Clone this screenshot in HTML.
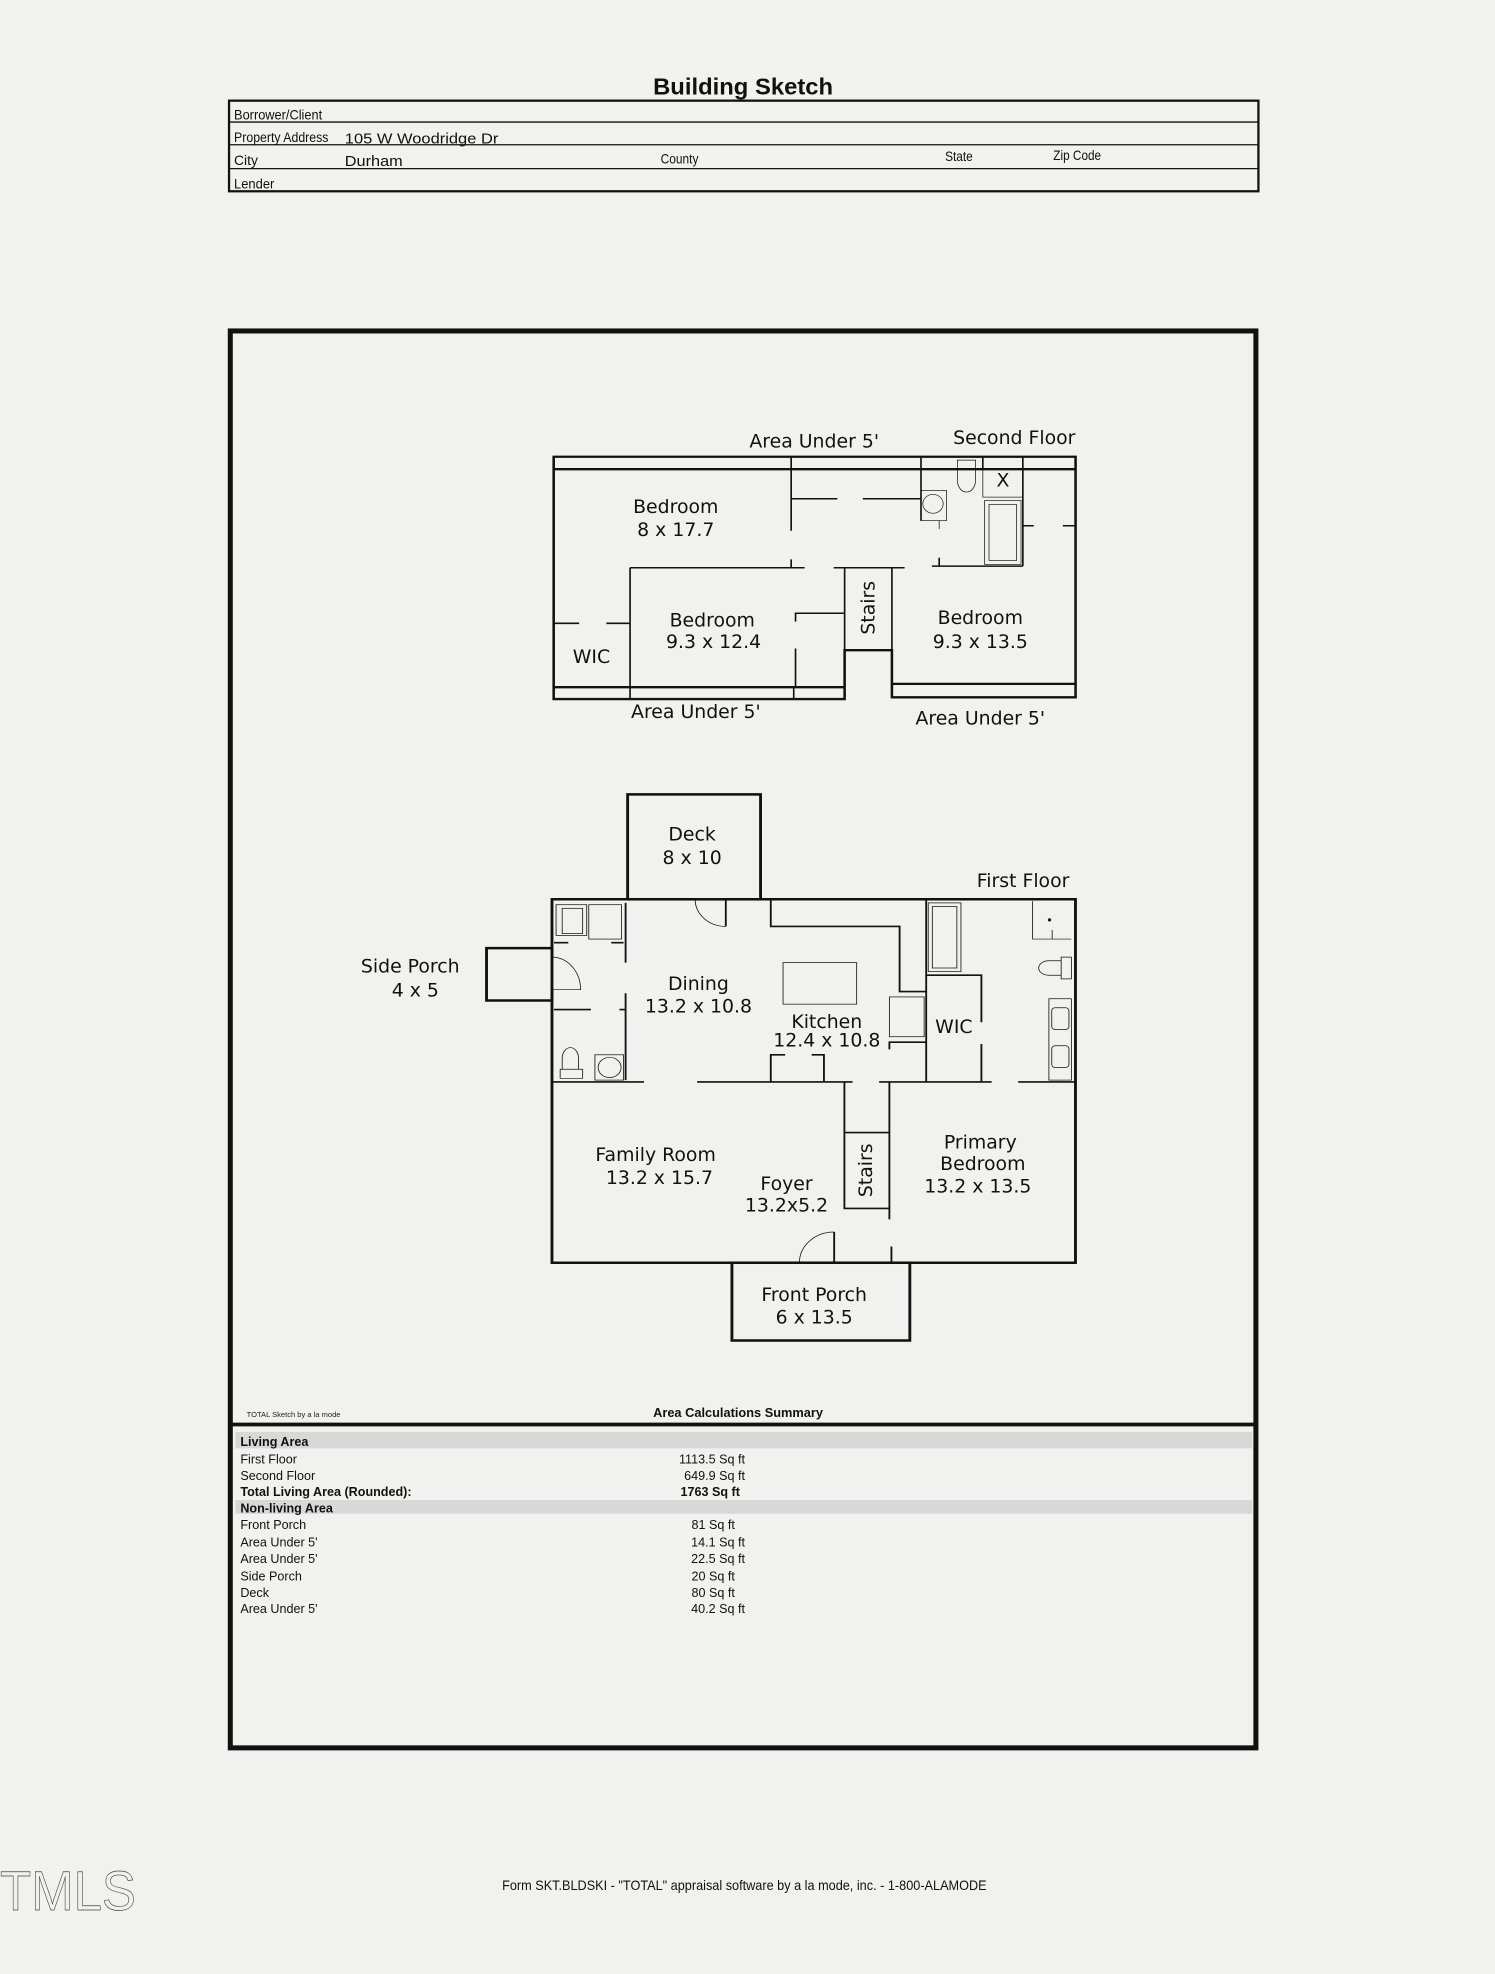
<!DOCTYPE html>
<html><head><meta charset="utf-8"><style>
html,body{margin:0;padding:0;background:#f1f1f0;}
svg{display:block;}
.n{font-family:"Liberation Sans Narrow","Liberation Sans",sans-serif;}
.v{font-family:"DejaVu Sans","Liberation Sans",sans-serif;font-size:15px;fill:#111;text-anchor:middle;dominant-baseline:central;}
.w{fill:none;stroke:#111;vector-effect:non-scaling-stroke;}
</style></head><body>
<svg width="1495" height="1974" viewBox="0 0 1188 1568.7" preserveAspectRatio="none" xmlns="http://www.w3.org/2000/svg">
<rect x="0" y="0" width="1188" height="1569" fill="#f1f1f0"/>
<!-- header -->
<text x="519" y="75" class="n" font-size="18" font-weight="bold" fill="#111" textLength="143" lengthAdjust="spacingAndGlyphs">Building Sketch</text>
<g stroke="#111" fill="none">
<rect x="182" y="80" width="818" height="72" stroke-width="1.8"/>
<line x1="182" y1="97" x2="1000" y2="97" stroke-width="1"/>
<line x1="182" y1="115" x2="1000" y2="115" stroke-width="1"/>
<line x1="182" y1="134" x2="1000" y2="134" stroke-width="1"/>
</g>
<g class="n" font-size="11" fill="#111">
<text x="186" y="95" textLength="70" lengthAdjust="spacingAndGlyphs">Borrower/Client</text>
<text x="186" y="113" textLength="75" lengthAdjust="spacingAndGlyphs">Property Address</text>
<text x="274" y="114" font-size="12" textLength="122" lengthAdjust="spacingAndGlyphs">105 W Woodridge Dr</text>
<text x="186" y="131">City</text>
<text x="274" y="132" font-size="12" textLength="46" lengthAdjust="spacingAndGlyphs">Durham</text>
<text x="525" y="130" textLength="30" lengthAdjust="spacingAndGlyphs">County</text>
<text x="751" y="128" textLength="22" lengthAdjust="spacingAndGlyphs">State</text>
<text x="837" y="127" textLength="38" lengthAdjust="spacingAndGlyphs">Zip Code</text>
<text x="186" y="150" textLength="32" lengthAdjust="spacingAndGlyphs">Lender</text>
</g>
<!-- main frame -->
<rect x="183" y="263" width="815" height="1126" fill="none" stroke="#111" stroke-width="4"/>
<line x1="183" y1="1132" x2="998" y2="1132" stroke="#111" stroke-width="3"/>
<text x="196" y="1126" class="n" font-size="6" fill="#222">TOTAL Sketch by a la mode</text>
<text x="519" y="1126" class="n" font-size="10" font-weight="bold" fill="#111" textLength="135" lengthAdjust="spacingAndGlyphs">Area Calculations Summary</text>
<rect x="187" y="1138" width="808" height="13" fill="#d8d8d8"/>
<rect x="187" y="1192" width="808" height="11" fill="#d8d8d8"/>
<g class="n" font-size="10" fill="#111">
<text x="191" y="1149" font-weight="bold">Living Area</text>
<text x="191" y="1163">First Floor</text>
<text x="191" y="1176">Second Floor</text>
<text x="191" y="1189" font-weight="bold">Total Living Area (Rounded):</text>
<text x="191" y="1202" font-weight="bold">Non-living Area</text>
<text x="191" y="1215">Front Porch</text>
<text x="191" y="1229">Area Under 5'</text>
<text x="191" y="1242">Area Under 5'</text>
<text x="191" y="1256">Side Porch</text>
<text x="191" y="1269">Deck</text>
<text x="191" y="1282">Area Under 5'</text>
<g text-anchor="end">
<text x="592" y="1163">1113.5 Sq ft</text>
<text x="592" y="1176">649.9 Sq ft</text>
<text x="588" y="1189" font-weight="bold">1763 Sq ft</text>
<text x="584" y="1215">81 Sq ft</text>
<text x="592" y="1229">14.1 Sq ft</text>
<text x="592" y="1242">22.5 Sq ft</text>
<text x="584" y="1256">20 Sq ft</text>
<text x="584" y="1269">80 Sq ft</text>
<text x="592" y="1282">40.2 Sq ft</text>
</g>
</g>
<!-- footer -->
<text x="399" y="1502" class="n" font-size="11" fill="#111" textLength="385" lengthAdjust="spacingAndGlyphs">Form SKT.BLDSKI - "TOTAL" appraisal software by a la mode, inc. - 1-800-ALAMODE</text>
<text x="0" y="1518" font-family="'Liberation Sans Narrow','Liberation Sans',sans-serif" font-size="44" fill="none" stroke="#444" stroke-width="0.5" textLength="108" lengthAdjust="spacingAndGlyphs">TMLS</text>

<!-- second floor -->
<g transform="translate(421.2,338.9) scale(0.289,0.2674)">
<g class="w" stroke-width="7">
<path d="M65,90 H1500 V805 H995 V665 H865 V810 H65 Z"/>
<line x1="65" y1="127" x2="1500" y2="127"/>
<line x1="65" y1="775" x2="865" y2="775"/>
<line x1="995" y1="765" x2="1500" y2="765"/>
</g>
<g class="w" stroke-width="4.5">
<path d="M718,90 V127 M1075,90 V127 M1245,90 V127 M1355,90 V127"/>
<path d="M275,775 V810 M725,775 V810"/>
<path d="M718,127 V310 M718,395 V420"/>
<path d="M718,215 H845 M915,215 H1075"/>
<path d="M1075,127 V280"/>
<path d="M1355,127 V415 M1355,295 H1385 M1465,295 H1500"/>
<path d="M1105,415 H1355 M1125,390 V415"/>
<path d="M275,420 H755 M835,420 H1030"/>
<path d="M275,420 V775"/>
<path d="M65,585 H135 M210,585 H275"/>
<path d="M730,580 V555 H865 M730,660 V775"/>
<path d="M865,420 V665 H995 V420"/>
</g>
<g class="w" stroke-width="2">
<rect x="1075" y="190" width="70" height="90"/>
<circle cx="1108" cy="230" r="28"/>
<path d="M1125,280 V305"/>
<path d="M1175,160 a25,35 0 0 0 50,0 V100 h-50 Z"/>
<rect x="1245" y="127" width="110" height="83"/>
<rect x="1250" y="220" width="100" height="190"/>
<rect x="1262" y="232" width="76" height="166"/>
</g>
</g>
<text x="797" y="382" class="v">X</text>
<text x="647" y="351" class="v">Area Under 5'</text>
<text x="806" y="348" class="v">Second Floor</text>
<text x="537" y="403" class="v">Bedroom</text>
<text x="537" y="421" class="v">8 x 17.7</text>
<text x="566" y="493" class="v">Bedroom</text>
<text x="567" y="510" class="v">9.3 x 12.4</text>
<text x="470" y="522" class="v">WIC</text>
<text x="690" y="483" class="v" transform="rotate(-90 690 483)">Stairs</text>
<text x="779" y="491" class="v">Bedroom</text>
<text x="779" y="510" class="v">9.3 x 13.5</text>
<text x="553" y="566" class="v">Area Under 5'</text>
<text x="779" y="571" class="v">Area Under 5'</text>

<!-- first floor -->
<g transform="translate(365.5,619.8) scale(0.325,0.2874)">
<g class="w" stroke-width="7">
<path d="M575,330 H225 V1335 H830 M915,1335 H1505 V330 H650"/>
<rect x="410" y="40" width="325" height="290"/>
<path d="M225,490 V465 H65 V610 H225 V580"/>
<rect x="665" y="1335" width="435" height="215"/>
</g>
<g class="w" stroke-width="4.5">
<path d="M650,330 V405"/>
<path d="M405,340 V505 M405,590 V830 M390,635 H405 M230,635 H320"/>
<path d="M230,450 H265 M370,450 H400"/>
<path d="M225,835 H450 M580,835 H960 M1025,835 H1300 M1365,835 H1505"/>
<path d="M760,330 V405 H1075 V585 H1140"/>
<path d="M1050,745 V725 H1140"/>
<path d="M760,835 V760 H795 M860,760 H890 V835"/>
<path d="M940,835 V1185 H1050 M940,975 H1050 M1050,835 V1215 M1055,1290 V1335"/>
<path d="M1140,330 V835 M1140,540 H1275 V670 M1275,730 V835"/>
<path d="M915,1250 V1335"/>
</g>
<g class="w" stroke-width="2">
<path d="M575,330 A75,75 0 0 0 650,405"/>
<path d="M225,490 A70,90 0 0 1 295,580 H225"/>
<path d="M830,1335 A85,85 0 0 1 915,1250"/>
<rect x="235" y="345" width="75" height="85"/><rect x="250" y="355" width="50" height="70"/>
<rect x="315" y="345" width="80" height="95"/>
<path d="M250,800 V770 a20,30 0 0 1 40,0 V800 M245,800 h55 v25 h-55 Z"/>
<rect x="330" y="760" width="70" height="70"/><circle cx="366" cy="795" r="28"/>
<rect x="790" y="505" width="180" height="115"/>
<rect x="1050" y="600" width="85" height="110"/>
<rect x="1145" y="340" width="80" height="190"/><rect x="1155" y="350" width="60" height="170"/>
<path d="M1400,335 V440 H1495 M1448,415 V440"/>
<path d="M1470,490 V550 H1495 V490 Z M1470,500 H1440 a25,20 0 0 0 0,40 H1470"/>
<rect x="1440" y="605" width="55" height="225"/>
<rect x="1447" y="630" width="42" height="60" rx="8"/>
<rect x="1447" y="735" width="42" height="60" rx="8"/>
</g>
</g>
<circle cx="834" cy="731" r="1.3" fill="#111"/>
<text x="550" y="663" class="v">Deck</text>
<text x="550" y="682" class="v">8 x 10</text>
<text x="813" y="700" class="v">First Floor</text>
<text x="326" y="768" class="v">Side Porch</text>
<text x="330" y="787" class="v">4 x 5</text>
<text x="555" y="782" class="v">Dining</text>
<text x="555" y="800" class="v">13.2 x 10.8</text>
<text x="657" y="812" class="v" font-size="13">Kitchen</text>
<text x="657" y="827" class="v" font-size="12">12.4 x 10.8</text>
<text x="758" y="816" class="v">WIC</text>
<text x="521" y="918" class="v">Family Room</text>
<text x="524" y="936" class="v">13.2 x 15.7</text>
<text x="625" y="941" class="v">Foyer</text>
<text x="625" y="958" class="v">13.2x5.2</text>
<text x="688" y="930" class="v" transform="rotate(-90 688 930)">Stairs</text>
<text x="779" y="908" class="v">Primary</text>
<text x="781" y="925" class="v">Bedroom</text>
<text x="777" y="943" class="v">13.2 x 13.5</text>
<text x="647" y="1029" class="v">Front Porch</text>
<text x="647" y="1047" class="v">6 x 13.5</text>
</svg>
</body></html>
